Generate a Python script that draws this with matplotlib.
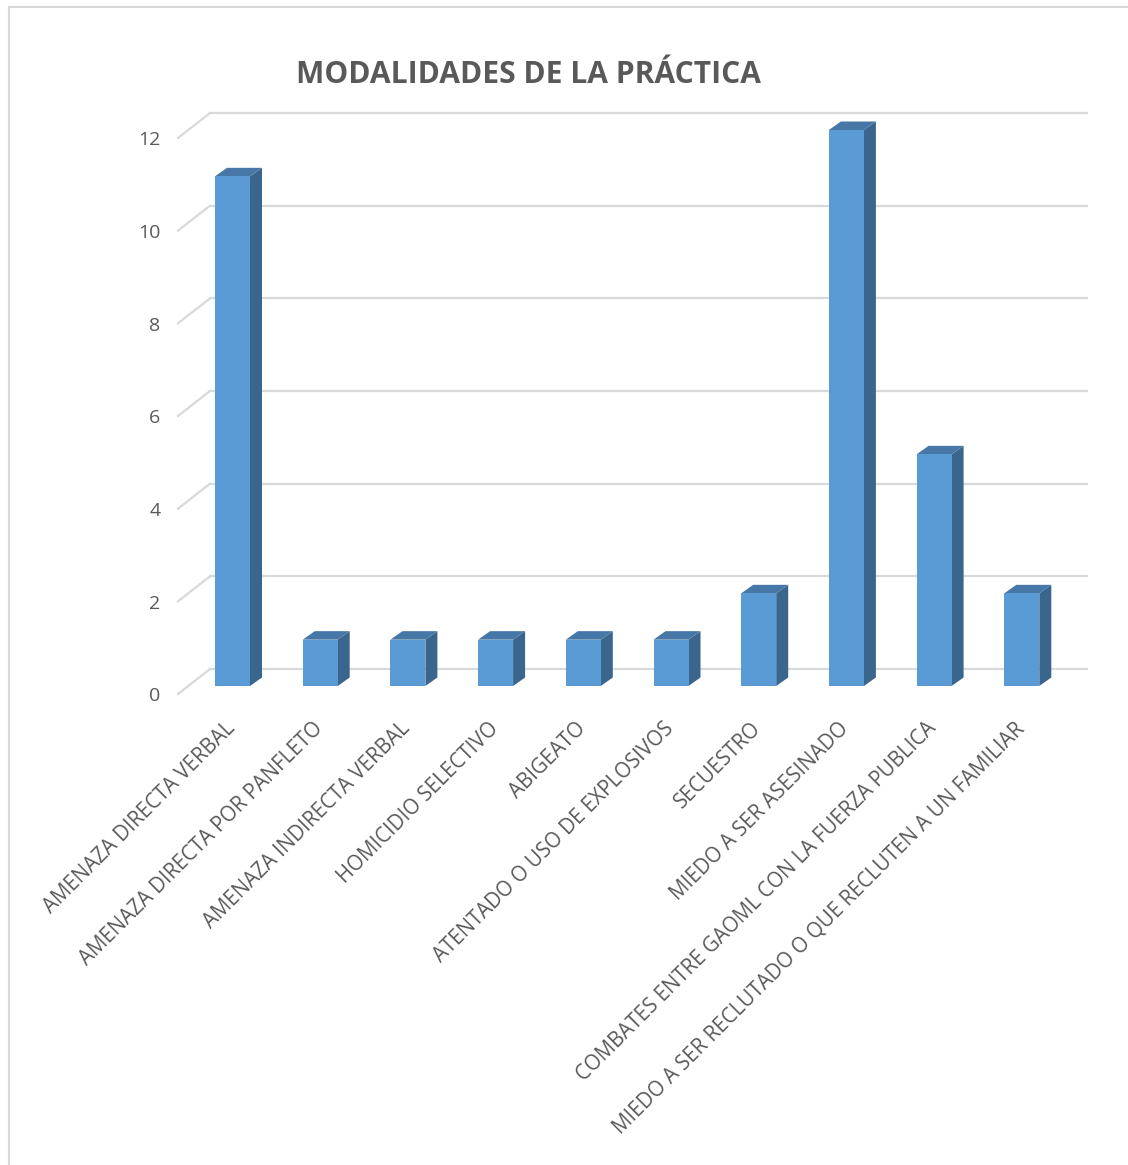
import matplotlib.pyplot as plt
from matplotlib.patches import Polygon, Rectangle
from matplotlib.lines import Line2D
import numpy as np

categories = [
    'AMENAZA DIRECTA VERBAL',
    'AMENAZA DIRECTA POR PANFLETO',
    'AMENAZA INDIRECTA VERBAL',
    'HOMICIDIO SELECTIVO',
    'ABIGEATO',
    'ATENTADO O USO DE EXPLOSIVOS',
    'SECUESTRO',
    'MIEDO A SER ASESINADO',
    'COMBATES ENTRE GAOML CON LA FUERZA PUBLICA',
    'MIEDO A SER RECLUTADO O QUE RECLUTEN A UN FAMILIAR',
]
values = [11, 1, 1, 1, 1, 1, 2, 12, 5, 2]
y_ticks = [0, 2, 4, 6, 8, 10, 12]
title = 'MODALIDADES DE LA PRÁCTICA'

FRONT = '#5B9BD5'
TOP = '#4677A6'
SIDE = '#3A658D'
GRID = '#D9D9D9'
TEXT = '#595959'

plt.rcParams['font.family'] = ['Open Sans', 'DejaVu Sans']

W, H = 1128, 1165
fig = plt.figure(figsize=(W / 100, H / 100), dpi=100)

# axes placement in pixels: x=-0.5..9.5, y=0..12
px_cat = 87.7
x0_px = 232.5 - 0.5 * px_cat
y0_px, y12_px = 686, 130
ax = fig.add_axes([x0_px / W, (H - y0_px) / H, 10 * px_cat / W, (y0_px - y12_px) / H])
ax.set_xlim(-0.5, 9.5)
ax.set_ylim(0, 12)
ax.axis('off')

px_unit = (y0_px - y12_px) / 12.0

# 3d geometry (data units)
bar_w = 35 / px_cat
dep_x = 12 / px_cat
dep_y = 8.5 / px_unit
wall_up = 17 / px_unit
wall_left = (210 - 232.5) / px_cat
wall_right = (1087 - 232.5) / px_cat
front_left = (178 - 232.5) / px_cat
front_down = 25 / px_unit

# back wall gridlines and floor diagonals
for t in y_ticks:
    yb = t + wall_up
    ax.plot([wall_left, wall_right], [yb, yb], color=GRID, lw=1.6, clip_on=False, zorder=1)
    ax.plot([front_left, wall_left], [yb - front_down, yb], color=GRID, lw=1.6,
            clip_on=False, zorder=1)
    ax.text(front_left - 0.2, yb - front_down - 0.05, str(t), ha='right', va='center',
            fontsize=14, color=TEXT)

# bars
x = np.arange(len(categories))
for xi, v in zip(x, values):
    left = xi - bar_w / 2
    right = xi + bar_w / 2
    ax.add_patch(Polygon([(right, 0), (right + dep_x, dep_y), (right + dep_x, v + dep_y), (right, v)],
                         closed=True, facecolor=SIDE, edgecolor='none', clip_on=False, zorder=3))
    ax.add_patch(Polygon([(left, v), (left + dep_x, v + dep_y), (right + dep_x, v + dep_y), (right, v)],
                         closed=True, facecolor=TOP, edgecolor='none', clip_on=False, zorder=3))
    ax.add_patch(Rectangle((left, 0), bar_w, v, facecolor=FRONT, edgecolor='none',
                           clip_on=False, zorder=4))

# category labels
for xi, lab in zip(x, categories):
    ax.text(xi - 0.09, -32 / px_unit, lab, rotation=45, rotation_mode='anchor',
            ha='right', va='top', fontsize=14.8, color=TEXT)

fig.text(528 / W, 1 - 75 / H, title, ha='center', va='center', fontsize=21.6,
         fontweight='bold', color=TEXT)

# chart area border (left and top)
fig.add_artist(Line2D([9 / W, 9 / W], [0, 1 - 7 / H], color=GRID, lw=1.5))
fig.add_artist(Line2D([9 / W, 1], [1 - 7 / H, 1 - 7 / H], color=GRID, lw=1.5))

fig.savefig('out.png', dpi=100, facecolor='white')
